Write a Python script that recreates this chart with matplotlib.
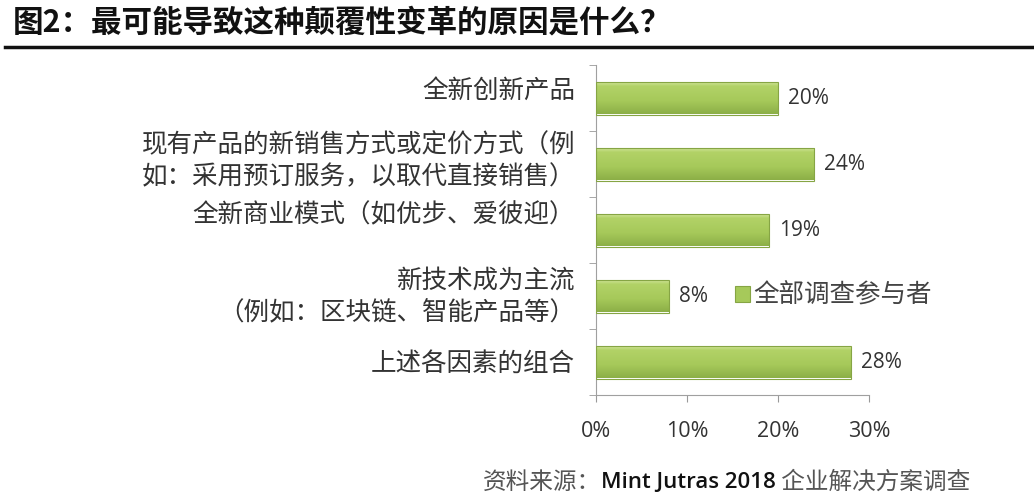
import matplotlib.pyplot as plt
import numpy as np
from matplotlib.lines import Line2D
from matplotlib.patches import Patch
from matplotlib.colors import LinearSegmentedColormap
from matplotlib.transforms import ScaledTranslation

plt.rcParams['font.family'] = ['Noto Sans CJK SC', 'DejaVu Sans']

categories = ['全新创新产品',
              '现有产品的新销售方式或定价方式（例\n如：采用预订服务，以取代直接销售）',
              '全新商业模式（如优步、爱彼迎）',
              '新技术成为主流\n（例如：区块链、智能产品等）',
              '上述各因素的组合']
values = [20, 24, 19, 8, 28]
xticks = [0, 10, 20, 30]
series_name = '全部调查参与者'

fig = plt.figure(figsize=(10.34, 5.0), dpi=100)
ax = fig.add_axes([0.5764, 0.21, 0.2640, 0.660])

y = np.arange(len(categories))
bars = ax.barh(y, values, height=0.5, color='none', edgecolor='#86a544',
               linewidth=0.8, zorder=3)

# gradient fill like the Excel bars
grad = np.linspace(0, 1, 100).reshape(-1, 1)
cmap = LinearSegmentedColormap.from_list(
    'g', [(0, '#d6e8a2'), (0.15, '#b2d267'), (0.6, '#a6c95a'), (1, '#8caf47')])
for b in bars:
    x0, y0 = b.get_x(), b.get_y()
    w, h = b.get_width(), b.get_height()
    im = ax.imshow(grad, extent=[x0, x0 + w, y0 + h, y0], aspect='auto',
                   cmap=cmap, zorder=2)
    im.set_clip_path(b)

for yi, v in zip(y, values):
    ax.text(v + 1.1, yi, f'{v}%', va='center', ha='left', fontsize=15,
            color='#333333', family=['Open Sans', 'DejaVu Sans'])

ax.set_xlim(0, 30)
ax.set_ylim(4.5, -0.38)
ax.set_xticks(xticks)
ax.set_xticklabels([f'{t}%' for t in xticks], fontsize=15.5, color='#333333',
                   family=['Open Sans', 'DejaVu Sans'])
ax.set_yticks(y)
ax.set_yticklabels(categories, fontsize=18.4, color='#333333', linespacing=1.33)
ax.set_yticks(np.arange(-0.5, 4.6, 1.0), minor=True)
ax.tick_params(axis='y', which='major', length=0, pad=15)
ax.tick_params(axis='y', which='minor', length=5, color='#999999')
ax.tick_params(axis='x', length=5, color='#999999', pad=14)
for s in ['top', 'right']:
    ax.spines[s].set_visible(False)
for s in ['left', 'bottom']:
    ax.spines[s].set_color('#a0a0a0')

# small vertical nudges of the category labels as in the original
shifts = [10, 9, 18, 5, 1]
for lab, dy in zip(ax.get_yticklabels(), shifts):
    lab.set_transform(lab.get_transform() + ScaledTranslation(0, dy / 100, fig.dpi_scale_trans))

handle = Patch(facecolor='#a6c95a', edgecolor='#86a544', linewidth=0.8)
ax.legend(handles=[handle], labels=[series_name], loc='center left',
          bbox_to_anchor=(0.47, 0.30), frameon=False, fontsize=18.4,
          handlelength=0.6, handleheight=0.6, handletextpad=0.15,
          labelcolor='#444444', borderaxespad=0)

fig.text(0.012, 0.955, '图2：最可能导致这种颠覆性变革的原因是什么？', fontsize=22,
         fontweight='bold', color='#111111', va='center', ha='left')
fig.add_artist(Line2D([0.005, 1.0], [0.906, 0.906], color='#111111', linewidth=2.5))

# source line in three pieces, placed right to left
fig.canvas.draw()
r = fig.canvas.get_renderer()
xr = 970
pieces = [(' 企业解决方案调查', '#555555', 'normal', ['Noto Sans CJK SC']),
          ('Mint Jutras 2018', '#111111', 'semibold', ['Open Sans', 'DejaVu Sans']),
          ('资料来源：', '#555555', 'normal', ['Noto Sans CJK SC'])]
for txt, col, wt, fam in pieces:
    t = fig.text(xr / 1034, 0.036, txt, fontsize=17 if wt == 'normal' else 16,
                 color=col, fontweight=wt, family=fam, ha='right', va='center')
    xr = t.get_window_extent(r).x0

fig.savefig('out.png', dpi=100)
